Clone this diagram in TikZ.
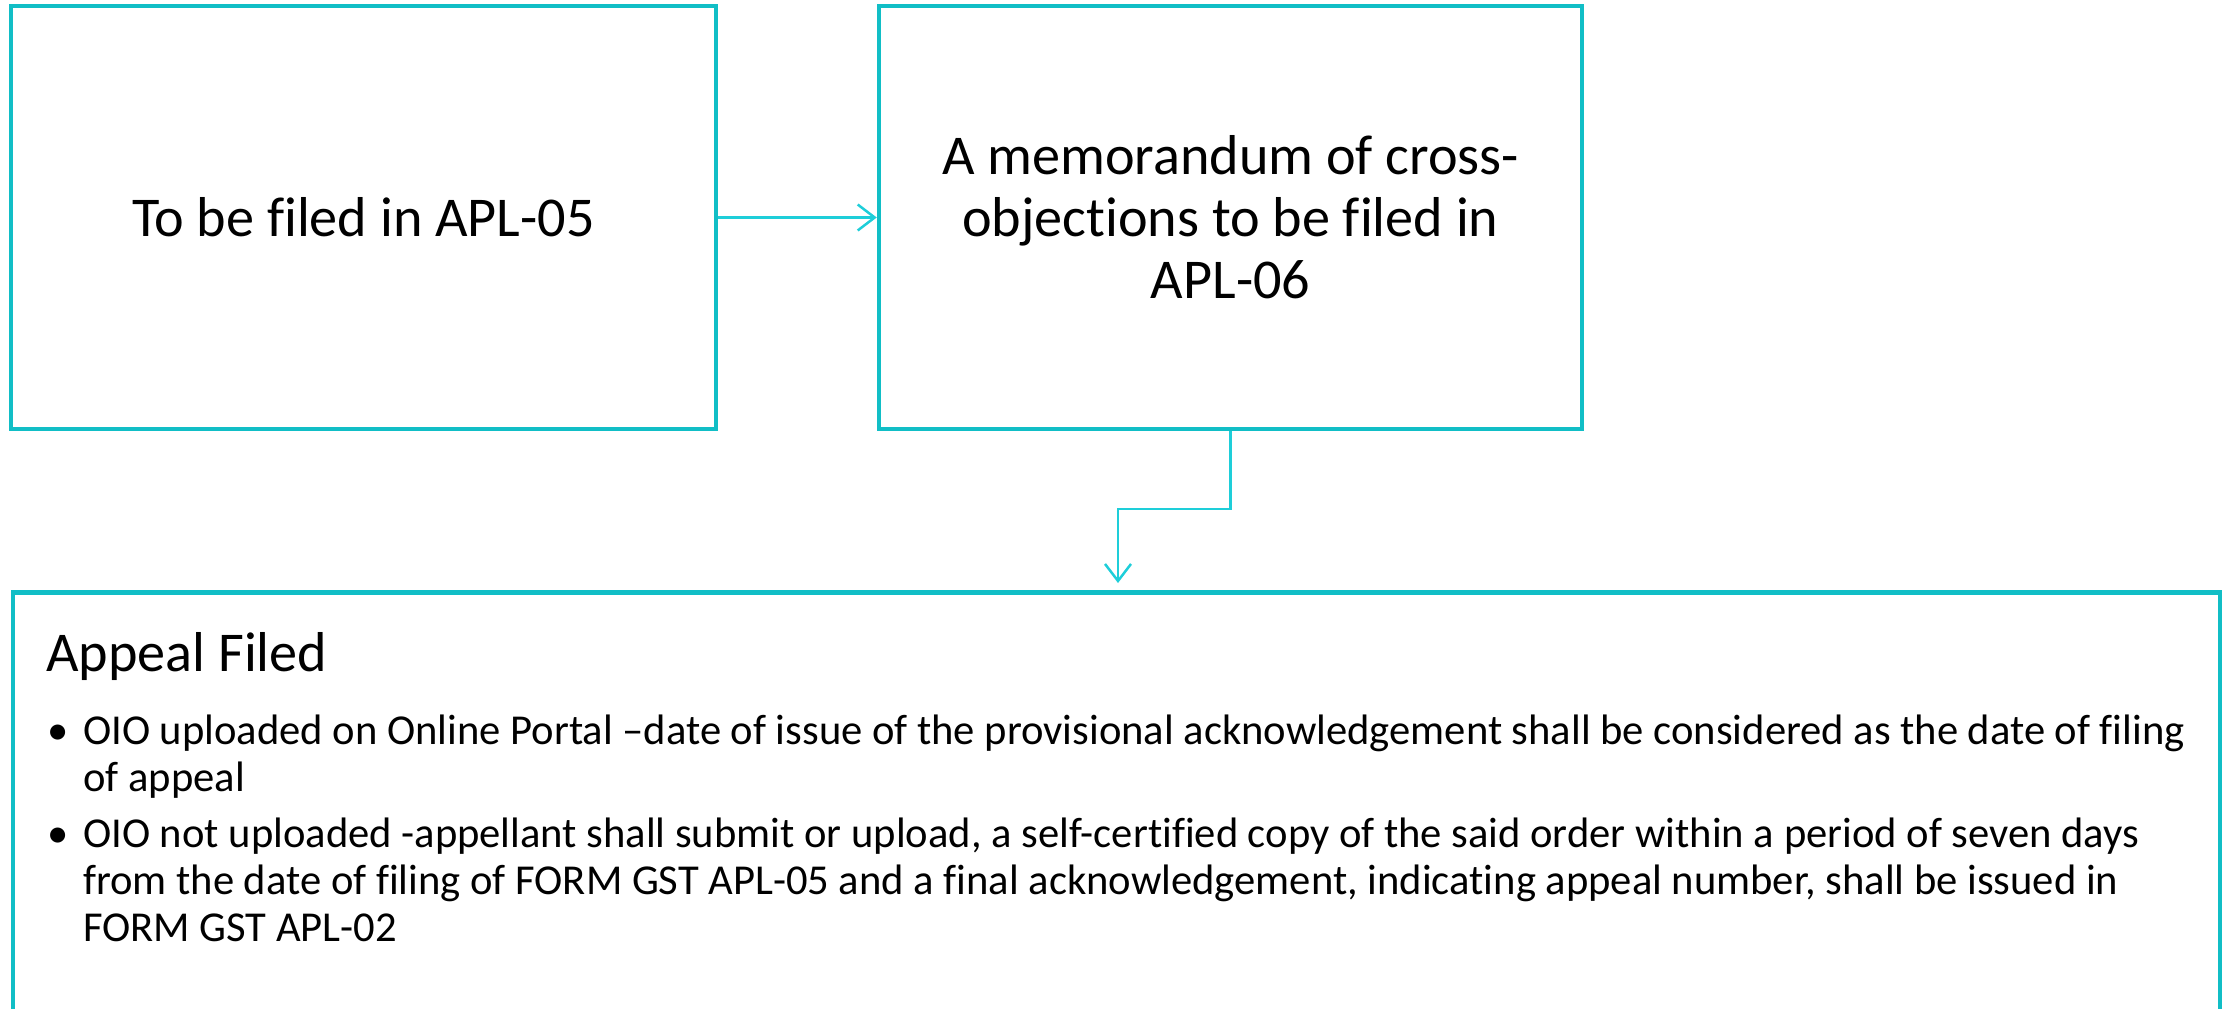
\documentclass[tikz,border=0pt]{standalone}
\usepackage{fontspec}
\setmainfont{Carlito}[Ligatures=NoCommon]
\usetikzlibrary{arrows.meta}
\definecolor{boxc}{RGB}{17,190,198}
\definecolor{linec}{RGB}{30,206,217}
\begin{document}
\begin{tikzpicture}[x=1pt,y=-1pt,
  stepbox/.style={draw=boxc, line width=4.5pt, rectangle, inner sep=0pt},
  big/.style={font=\fontsize{56.2}{62}\selectfont, inner sep=0pt},
  small/.style={font=\fontsize{42.6}{47}\selectfont, inner sep=0pt, anchor=base west},
  conn/.style={draw=linec, line width=2.5pt, -{Straight Barb[length=17pt,width=26pt,line width=2.5pt]}}
]
\useasboundingbox (0,0) rectangle (2233,1009);
\clip (0,0) rectangle (2233,1009);
\node[stepbox, minimum width=705pt, minimum height=423pt] (b1) at (363.5,217.5) {};
\node[stepbox, minimum width=703pt, minimum height=423pt] (b2) at (1230.5,217.5) {};
\node[stepbox, minimum width=2207pt, minimum height=520pt, anchor=north] (b3) at (1116.5,590) {};
\node[big] (t1) at (b1.center) {To be filed in APL-05};
\node[big, align=center] (t2) at (b2.center) {A memorandum of cross-\\objections to be filed in\\APL-06};
\node[big, anchor=base west] (h) at (46,671) {Appeal Filed};
\node[small] (d1) at (47,744) {•};
\node[small] (l1) at (83,744) {OIO uploaded on Online Portal –date of issue of the provisional acknowledgement shall be considered as the date of filing};
\node[small] (l2) at (83,791) {of appeal};
\node[small] (d2) at (47,847) {•};
\node[small] (l3) at (83,847) {OIO not uploaded -appellant shall submit or upload, a self-certified copy of the said order within a period of seven days};
\node[small] (l4) at (83,894) {from the date of filing of FORM GST APL-05 and a final acknowledgement, indicating appeal number, shall be issued in};
\node[small] (l5) at (83,941) {FORM GST APL-02};
\draw[conn] (b1.east) -- (b2.west);
\coordinate (k) at (1118,509);
\draw[conn, shorten >=7pt] (b2.south) -- (b2.south |- k) -- (k) -- (k |- b3.north);
\end{tikzpicture}
\end{document}
